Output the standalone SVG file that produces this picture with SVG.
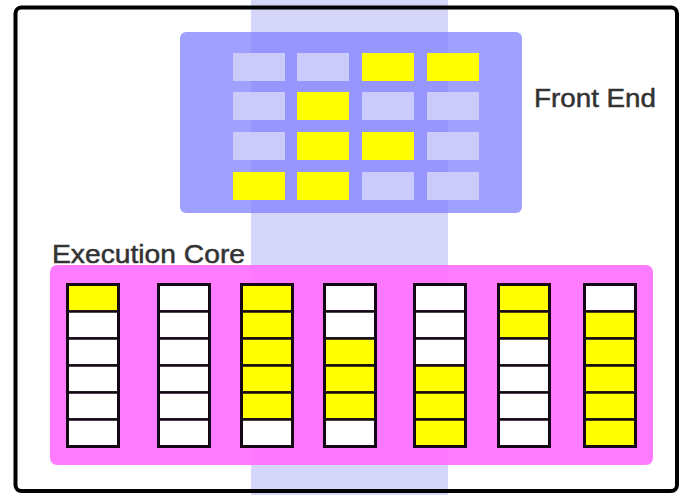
<svg xmlns="http://www.w3.org/2000/svg" width="685" height="495" viewBox="0 0 685 495">
<style>
.lbl{font-family:"Liberation Sans",Arial,sans-serif;font-size:26px;fill:#333333;stroke:#333333;stroke-width:0.5}
.fl{fill:#cbcbfb}
.fy{fill:#ffff00}
.cw{fill:#ffffff;stroke:#140814;stroke-width:2.5}
.cy{fill:#ffff00;stroke:#140814;stroke-width:2.5}
.col{fill:none;stroke:#140814;stroke-width:3}
</style>
<rect x="0" y="0" width="685" height="495" fill="#ffffff"/>
<g id="band">
<rect x="251" y="0" width="197" height="495" fill="#d6d6fa"/>
</g>
<g id="frame">
<rect x="15.5" y="7.5" width="661.5" height="483.5" rx="6" fill="none" stroke="#000000" stroke-width="4"/>
</g>
<g id="front-end">
<rect x="180" y="32" width="342" height="181" rx="6" fill="#8080ff" fill-opacity="0.75"/>
<rect class="fl" x="233" y="53" width="52" height="28"/>
<rect class="fl" x="297" y="53" width="52" height="28"/>
<rect class="fy" x="362" y="53" width="52" height="28"/>
<rect class="fy" x="427" y="53" width="52" height="28"/>
<rect class="fl" x="233" y="92" width="52" height="28"/>
<rect class="fy" x="297" y="92" width="52" height="28"/>
<rect class="fl" x="362" y="92" width="52" height="28"/>
<rect class="fl" x="427" y="92" width="52" height="28"/>
<rect class="fl" x="233" y="132" width="52" height="28"/>
<rect class="fy" x="297" y="132" width="52" height="28"/>
<rect class="fy" x="362" y="132" width="52" height="28"/>
<rect class="fl" x="427" y="132" width="52" height="28"/>
<rect class="fy" x="233" y="172" width="52" height="28"/>
<rect class="fy" x="297" y="172" width="52" height="28"/>
<rect class="fl" x="362" y="172" width="52" height="28"/>
<rect class="fl" x="427" y="172" width="52" height="28"/>
<text class="lbl" x="534" y="107" textLength="122" lengthAdjust="spacingAndGlyphs">Front End</text>
</g>
<g id="execution-core">
<rect x="50" y="265" width="603" height="200" rx="7" fill="#ff70ff" fill-opacity="0.92"/>
<text class="lbl" x="52" y="263" textLength="193" lengthAdjust="spacingAndGlyphs">Execution Core</text>
<g id="col1">
<rect class="cy" x="67.5" y="284.5" width="51" height="27"/>
<rect class="cw" x="67.5" y="311.5" width="51" height="27"/>
<rect class="cw" x="67.5" y="338.5" width="51" height="27"/>
<rect class="cw" x="67.5" y="365.5" width="51" height="27"/>
<rect class="cw" x="67.5" y="392.5" width="51" height="27"/>
<rect class="cw" x="67.5" y="419.5" width="51" height="27"/>
<rect class="col" x="67.5" y="284.5" width="51" height="162"/>
</g>
<g id="col2">
<rect class="cw" x="158.5" y="284.5" width="51" height="27"/>
<rect class="cw" x="158.5" y="311.5" width="51" height="27"/>
<rect class="cw" x="158.5" y="338.5" width="51" height="27"/>
<rect class="cw" x="158.5" y="365.5" width="51" height="27"/>
<rect class="cw" x="158.5" y="392.5" width="51" height="27"/>
<rect class="cw" x="158.5" y="419.5" width="51" height="27"/>
<rect class="col" x="158.5" y="284.5" width="51" height="162"/>
</g>
<g id="col3">
<rect class="cy" x="241.5" y="284.5" width="51" height="27"/>
<rect class="cy" x="241.5" y="311.5" width="51" height="27"/>
<rect class="cy" x="241.5" y="338.5" width="51" height="27"/>
<rect class="cy" x="241.5" y="365.5" width="51" height="27"/>
<rect class="cy" x="241.5" y="392.5" width="51" height="27"/>
<rect class="cw" x="241.5" y="419.5" width="51" height="27"/>
<rect class="col" x="241.5" y="284.5" width="51" height="162"/>
</g>
<g id="col4">
<rect class="cw" x="324.5" y="284.5" width="51" height="27"/>
<rect class="cw" x="324.5" y="311.5" width="51" height="27"/>
<rect class="cy" x="324.5" y="338.5" width="51" height="27"/>
<rect class="cy" x="324.5" y="365.5" width="51" height="27"/>
<rect class="cy" x="324.5" y="392.5" width="51" height="27"/>
<rect class="cw" x="324.5" y="419.5" width="51" height="27"/>
<rect class="col" x="324.5" y="284.5" width="51" height="162"/>
</g>
<g id="col5">
<rect class="cw" x="414.5" y="284.5" width="51" height="27"/>
<rect class="cw" x="414.5" y="311.5" width="51" height="27"/>
<rect class="cw" x="414.5" y="338.5" width="51" height="27"/>
<rect class="cy" x="414.5" y="365.5" width="51" height="27"/>
<rect class="cy" x="414.5" y="392.5" width="51" height="27"/>
<rect class="cy" x="414.5" y="419.5" width="51" height="27"/>
<rect class="col" x="414.5" y="284.5" width="51" height="162"/>
</g>
<g id="col6">
<rect class="cy" x="498.5" y="284.5" width="51" height="27"/>
<rect class="cy" x="498.5" y="311.5" width="51" height="27"/>
<rect class="cw" x="498.5" y="338.5" width="51" height="27"/>
<rect class="cw" x="498.5" y="365.5" width="51" height="27"/>
<rect class="cw" x="498.5" y="392.5" width="51" height="27"/>
<rect class="cw" x="498.5" y="419.5" width="51" height="27"/>
<rect class="col" x="498.5" y="284.5" width="51" height="162"/>
</g>
<g id="col7">
<rect class="cw" x="584.5" y="284.5" width="51" height="27"/>
<rect class="cy" x="584.5" y="311.5" width="51" height="27"/>
<rect class="cy" x="584.5" y="338.5" width="51" height="27"/>
<rect class="cy" x="584.5" y="365.5" width="51" height="27"/>
<rect class="cy" x="584.5" y="392.5" width="51" height="27"/>
<rect class="cy" x="584.5" y="419.5" width="51" height="27"/>
<rect class="col" x="584.5" y="284.5" width="51" height="162"/>
</g>
</g>
<g id="connectors"/>
</svg>
